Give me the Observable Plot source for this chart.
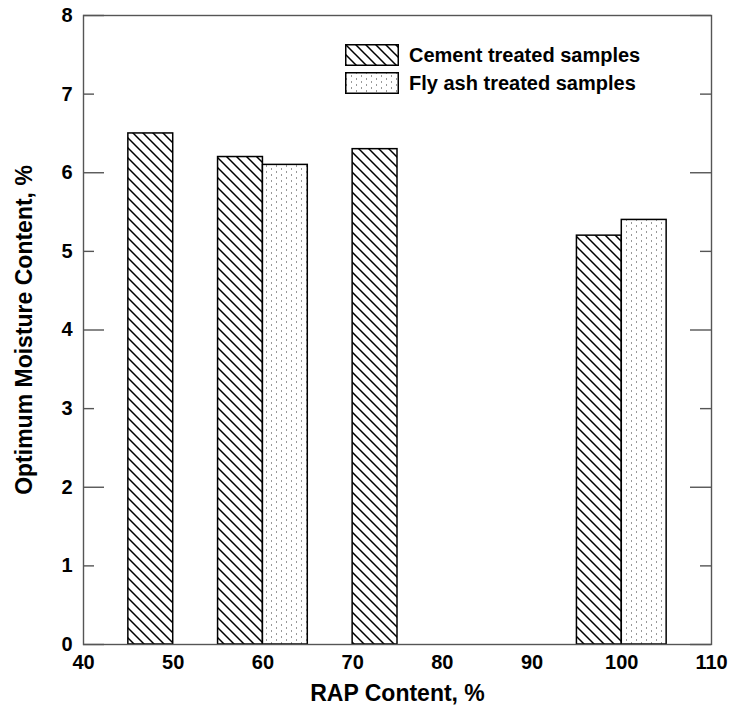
<!DOCTYPE html>
<html>
<head>
<meta charset="utf-8">
<script src="https://cdn.jsdelivr.net/npm/d3@7"></script>
<script src="https://cdn.jsdelivr.net/npm/@observablehq/plot@0.6"></script>
<style>
  body { margin: 0; background: #fff; }
  #chart { position: relative; width: 732px; height: 718px; font-family: "Liberation Sans", Arial, sans-serif; font-weight: bold; }
  #chart svg.defs { position: absolute; width: 0; height: 0; }
  .legend { position: absolute; left: 345px; top: 44px; }
  .legend .row { display: flex; align-items: center; height: 22px; margin-bottom: 6px; }
  .legend .row svg { display: block; margin-right: 10px; }
  .legend .row span { font-size: 20px; line-height: 22px; color: #000; }
</style>
</head>
<body>
<div id="chart"></div>
<script>
// Optimum moisture content of RAP blends by stabiliser
const seriesNames = ["Cement treated samples", "Fly ash treated samples"];
const cementCentre = [47.5, 57.5, 72.5, 97.5];   // bar centre, RAP content %
const cementOMC    = [6.5, 6.2, 6.3, 5.2];       // optimum moisture content, %
const flyAshCentre = [62.5, 102.5];              // bar centre, RAP content %
const flyAshOMC    = [6.1, 5.4];                 // optimum moisture content, %
const xTicks = [40, 50, 60, 70, 80, 90, 100, 110];
const yTicks = [0, 1, 2, 3, 4, 5, 6, 7, 8];
const barSpan = 5; // width of each bar in RAP-% units

const cementRows = cementCentre.map((c, i) => ({c, omc: cementOMC[i], series: seriesNames[0]}));
const flyAshRows = flyAshCentre.map((c, i) => ({c, omc: flyAshOMC[i], series: seriesNames[1]}));

const W = 732, H = 718;
const mL = 83, mR = 21, mT = 15, mB = 74;
const plotW = W - mL - mR;
const axisColor = "#555";

const majorTicks = yTicks.filter(v => v % 2 === 0);
const minorTicks = yTicks.filter(v => v % 2 === 1);
const longTick = 21, shortTick = 11;
const tickFont = 20;

const chart = Plot.plot({
  width: W,
  height: H,
  marginLeft: mL,
  marginRight: mR,
  marginTop: mT,
  marginBottom: mB,
  style: {fontFamily: '"Liberation Sans", Arial, sans-serif', fontWeight: "bold", fontSize: "18px", color: "#000", background: "#fff"},
  x: {domain: [40, 110], axis: null},
  y: {domain: [0, 8], axis: null},
  marks: [
    Plot.rectY(cementRows, {x1: d => d.c - barSpan / 2, x2: d => d.c + barSpan / 2, y1: 0, y2: "omc",
      fill: "url(#hatch)", stroke: "#000", strokeWidth: 1.5}),
    Plot.rectY(flyAshRows, {x1: d => d.c - barSpan / 2, x2: d => d.c + barSpan / 2, y1: 0, y2: "omc",
      fill: "url(#dots)", stroke: "#000", strokeWidth: 1.5}),
    Plot.frame({stroke: axisColor, strokeWidth: 1.4}),
    // inward ticks on both vertical edges, longer at even values
    Plot.tickY(majorTicks, {y: d => d, insetRight: plotW - longTick, stroke: axisColor, strokeWidth: 1.4}),
    Plot.tickY(minorTicks, {y: d => d, insetRight: plotW - shortTick, stroke: axisColor, strokeWidth: 1.4}),
    Plot.tickY(majorTicks, {y: d => d, insetLeft: plotW - longTick, stroke: axisColor, strokeWidth: 1.4}),
    Plot.tickY(minorTicks, {y: d => d, insetLeft: plotW - shortTick, stroke: axisColor, strokeWidth: 1.4}),
    // tick labels
    Plot.text(yTicks, {y: d => d, text: d => String(d), frameAnchor: "left", textAnchor: "end", dx: -11,
      fontSize: tickFont, fontWeight: "bold", fill: "#000"}),
    Plot.text(xTicks, {x: d => d, text: d => String(d), frameAnchor: "bottom", dy: 24,
      fontSize: tickFont, fontWeight: "bold", fill: "#000"}),
    // axis titles
    Plot.text(["RAP Content, %"], {frameAnchor: "bottom", dy: 56, fontSize: 23, fontWeight: "bold", fill: "#000"}),
    Plot.text(["Optimum Moisture Content, %"], {frameAnchor: "left", textAnchor: "middle", rotate: -90, dx: -59,
      fontSize: 23, fontWeight: "bold", fill: "#000"})
  ]
});

// fill patterns shared by the bars and the legend swatches
const defsSvg = `
<svg class="defs" xmlns="http://www.w3.org/2000/svg">
  <defs>
    <pattern id="hatch" patternUnits="userSpaceOnUse" width="10" height="10">
      <rect width="10" height="10" fill="#fff"/>
      <path d="M0,0L10,10M-5,5L5,15M5,-5L15,5" stroke="#000" stroke-width="1.5"/>
    </pattern>
    <pattern id="dots" patternUnits="userSpaceOnUse" width="10" height="6">
      <rect width="10" height="6" fill="#fff"/>
      <rect x="1" y="0" width="1" height="2" fill="#999"/>
      <rect x="6" y="3" width="1" height="2" fill="#999"/>
    </pattern>
  </defs>
</svg>`;

const root = document.getElementById("chart");
root.insertAdjacentHTML("beforeend", defsSvg);
root.appendChild(chart);

// legend in the upper right of the plot area
const legend = document.createElement("div");
legend.className = "legend";
const fills = ["url(#hatch)", "url(#dots)"];
seriesNames.forEach((name, i) => {
  const row = document.createElement("div");
  row.className = "row";
  row.innerHTML = `<svg width="54" height="22"><rect x="0.75" y="0.75" width="52.5" height="20.5" fill="${fills[i]}" stroke="#000" stroke-width="1.5"/></svg><span>${name}</span>`;
  legend.appendChild(row);
});
root.appendChild(legend);
</script>
</body>
</html>
